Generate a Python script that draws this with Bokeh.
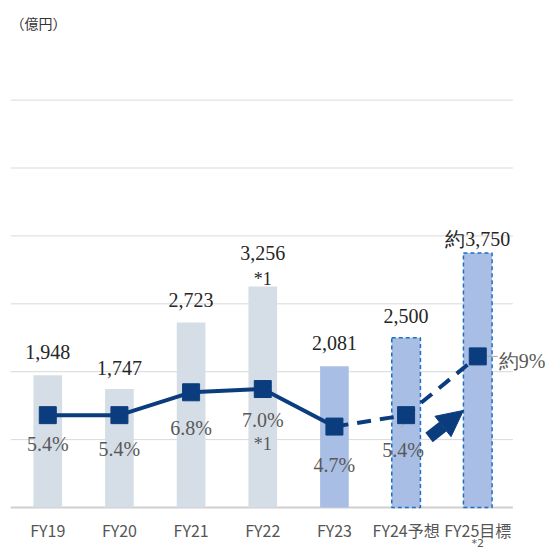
from bokeh.plotting import figure
from bokeh.models import Range1d, Label, Arrow, NormalHead, ColumnDataSource
from bokeh.embed import file_html
from bokeh.resources import INLINE
from bokeh.core.properties import value

# ---- data ----
categories = ["FY19", "FY20", "FY21", "FY22", "FY23", "FY24予想", "FY25目標"]
category_notes = ["", "", "", "", "", "", "*2"]
sales = [1948, 1747, 2723, 3256, 2081, 2500, 3750]          # 億円
margin_pct = [5.4, 5.4, 6.8, 7.0, 4.7, 5.4, 9.0]            # %
sales_prefix = ["", "", "", "", "", "", "約"]
sales_note = ["", "", "", "*1", "", "", ""]
margin_note = ["", "", "", "*1", "", "", ""]
unit_label = "（億円）"
grid_values = [0, 1000, 2000, 3000, 4000, 5000, 6000]

# ---- styles ----
idx = list(range(len(categories)))
NAVY = "#0b3d7e"
PAST = "#d5dee6"
RECENT = "#a9bee4"
DASH_BLUE = "#1f6fc4"
SERIF = value("Liberation Serif")
SANS = value("Noto Sans CJK JP")
sales_dy = [-23, -21, -23, -33, -23, -22, -14]      # label offsets in px (style)
note_dy = [0, 0, 0, -7, 0, 0, 0]
pct_dy = [29, 34, 36, 31, 38, 35, 0]
pct_dx = [0, 0, 0, 0, 0, -3, 0]
X0, X1 = -0.52, 7.015
GRID_END = 6.49

p = figure(width=550, height=550, output_backend="svg", toolbar_location=None,
           x_range=Range1d(X0, X1), y_range=Range1d(-633, 7467),
           x_axis_location=None, y_axis_location=None,
           min_border_left=10, min_border_right=0, min_border_top=0, min_border_bottom=0)
p.extra_y_ranges = {"pct": Range1d(-2.895, 30.81)}
p.outline_line_color = None
p.background_fill_color = "white"
p.border_fill_color = "white"
p.grid.visible = False

# gridlines (limited horizontal extent as in the original)
p.segment(x0=[X0] * 6, x1=[GRID_END] * 6, y0=grid_values[1:], y1=grid_values[1:],
          line_color="#d9d9d9", line_width=1)
p.segment(x0=[X0], x1=[GRID_END], y0=[grid_values[0]], y1=[grid_values[0]],
          line_color="#cfcfcf", line_width=2)

# category labels below the baseline
p.text(x=idx, y=[0] * len(idx), text=categories, y_offset=10, text_align="center",
       text_baseline="top", text_font=SANS, text_font_size="16px", text_color="#555555")
p.text(x=idx, y=[0] * len(idx), text=category_notes, y_offset=42, text_align="center",
       text_baseline="bottom", text_font=value("DejaVu Sans"), text_font_size="11px",
       text_color="#555555")

# bars
colors = [PAST] * 4 + [RECENT] * 3
bars = ColumnDataSource(dict(x=idx, top=sales, color=colors))
p.vbar(x="x", top="top", width=0.40, fill_color="color", line_color=None, source=bars)
fc = ColumnDataSource(dict(x=idx[5:], top=sales[5:]))
p.vbar(x="x", top="top", width=0.40, fill_color=None, line_color=DASH_BLUE,
       line_width=1.5, line_dash="4 3", source=fc)

# line: actual (solid) and forecast (dashed)
p.line(idx[:5], margin_pct[:5], y_range_name="pct", line_color=NAVY, line_width=4)
p.line(idx[4:], margin_pct[4:], y_range_name="pct", line_color=NAVY, line_width=4,
       line_dash="14 9")
# leader lines
p.segment(x0=[4.93, 6.11], y0=[4.64, margin_pct[6]], x1=[5.04, 6.28], y1=[5.25, margin_pct[6]],
          y_range_name="pct", line_color="#a6a6a6", line_width=1)
p.scatter(idx, margin_pct, y_range_name="pct", marker="square", size=17,
          fill_color=NAVY, line_color=NAVY)

# arrow between FY24 and FY25
p.add_layout(Arrow(x_start=5.32, y_start=4.03, x_end=5.80, y_end=5.69, y_range_name="pct",
                   line_color=NAVY, line_width=12,
                   end=NormalHead(size=26, fill_color=NAVY, line_color=NAVY)))

# value labels
vs = ColumnDataSource(dict(x=idx, y=sales,
                           t=[pre + f"{v:,}" for pre, v in zip(sales_prefix, sales)],
                           dy=sales_dy, n=sales_note, ndy=note_dy))
p.text(x="x", y="y", text="t", y_offset="dy", source=vs, text_align="center",
       text_baseline="middle", text_font=SERIF, text_font_size="20px", text_color="#262626")
p.text(x="x", y="y", text="n", y_offset="ndy", source=vs, text_align="center",
       text_baseline="middle", text_font=SERIF, text_font_size="18px", text_color="#262626")

# percent labels (FY19..FY24 below the markers)
ps = ColumnDataSource(dict(x=idx[:6], y=margin_pct[:6],
                           t=[f"{v:.1f}%" for v in margin_pct[:6]],
                           dy=pct_dy[:6], dx=pct_dx[:6],
                           n=margin_note[:6], ndy=[d + 24 for d in pct_dy[:6]]))
p.text(x="x", y="y", text="t", x_offset="dx", y_offset="dy", source=ps, y_range_name="pct",
       text_align="center", text_baseline="middle", text_font=SERIF,
       text_font_size="20px", text_color="#595959")
p.text(x="x", y="y", text="n", y_offset="ndy", source=ps, y_range_name="pct",
       text_align="center", text_baseline="middle", text_font=SERIF,
       text_font_size="18px", text_color="#595959")
# FY25 percent label to the right of the marker
p.text(x=[idx[6]], y=[margin_pct[6]], text=[f"約{margin_pct[6]:.0f}%"], y_range_name="pct",
       x_offset=21, y_offset=5, text_align="left", text_baseline="middle",
       text_font=SERIF, text_font_size="20px", text_color="#595959")

# unit label
p.add_layout(Label(x=X0, y=7143, text=unit_label, text_align="left", text_baseline="middle",
                   text_font="Noto Sans CJK JP", text_font_size="14px", text_color="#333333"))

open("out.html", "w").write(file_html(p, INLINE))
